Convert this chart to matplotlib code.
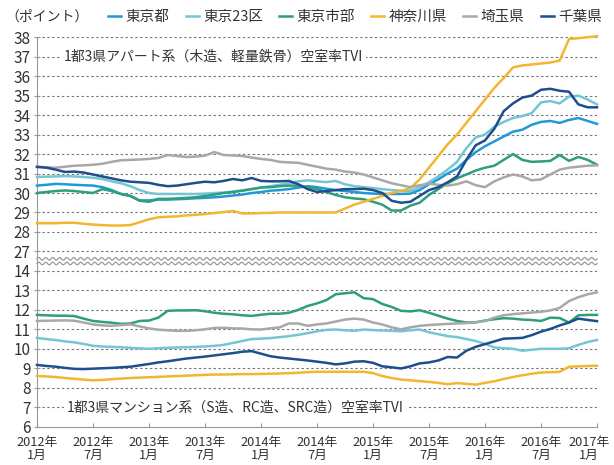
import numpy as np
import matplotlib
matplotlib.use("Agg")
from matplotlib import pyplot as plt

plt.rcParams['font.family'] = ['Noto Sans CJK JP', 'DejaVu Sans']

# 月次 2012年1月 〜 2017年1月 (61点)
months = list(range(61))
tick_pos = list(range(0, 61, 6))
tick_labels = ["2012年\n1月", "2012年\n7月", "2013年\n1月", "2013年\n7月", "2014年\n1月",
               "2014年\n7月", "2015年\n1月", "2015年\n7月", "2016年\n1月", "2016年\n7月",
               "2017年\n1月"]

names = ["東京都", "東京23区", "東京市部", "神奈川県", "埼玉県", "千葉県"]
colors = ["#1f9ad6", "#74c6d4", "#2e9e7c", "#f2b630", "#a8a8a8", "#1f4e8c"]

# アパート系 (上段)
apt_tokyo = [30.38, 30.42, 30.47, 30.45, 30.42, 30.4, 30.38, 30.3, 30.15, 29.95, 29.85, 29.62,
             29.62, 29.66, 29.66, 29.68, 29.7, 29.73, 29.75, 29.78, 29.82, 29.87, 29.92, 30.0,
             30.05, 30.12, 30.15, 30.2, 30.28, 30.35, 30.3, 30.22, 30.15, 30.1, 30.05, 30.0,
             29.97, 29.95, 29.95, 29.95, 29.97, 30.15, 30.45, 30.7, 31.0, 31.25, 31.7, 32.1,
             32.4, 32.65, 32.9, 33.15, 33.25, 33.5, 33.65, 33.7, 33.6, 33.75, 33.85, 33.7, 33.55]
apt_23ku = [30.82, 30.84, 30.85, 30.87, 30.85, 30.82, 30.78, 30.72, 30.6, 30.5, 30.35, 30.15,
            30.0, 29.95, 29.95, 29.95, 29.95, 29.95, 29.97, 30.0, 30.02, 30.08, 30.13, 30.2,
            30.28, 30.35, 30.42, 30.5, 30.6, 30.65, 30.6, 30.56, 30.62, 30.45, 30.35, 30.3,
            30.25, 30.2, 30.15, 30.12, 30.1, 30.3, 30.55, 30.85, 31.2, 31.6, 32.3, 32.85,
            33.0, 33.4, 33.65, 33.85, 33.95, 34.1, 34.65, 34.72, 34.6, 34.95, 35.0, 34.8, 34.55]
apt_shibu = [30.0, 30.05, 30.1, 30.13, 30.1, 30.05, 30.0, 30.2, 30.1, 29.95, 29.85, 29.6,
             29.55, 29.7, 29.7, 29.72, 29.75, 29.78, 29.85, 29.92, 30.0, 30.05, 30.12, 30.2,
             30.28, 30.3, 30.35, 30.38, 30.38, 30.3, 30.2, 30.05, 29.9, 29.78, 29.72, 29.68,
             29.55, 29.4, 29.1, 29.1, 29.35, 29.5, 29.9, 30.2, 30.5, 30.75, 30.95, 31.15,
             31.3, 31.4, 31.7, 32.0, 31.7, 31.6, 31.62, 31.65, 31.95, 31.65, 31.85, 31.7, 31.45]
apt_kanagawa = [28.45, 28.45, 28.45, 28.47, 28.47, 28.42, 28.38, 28.35, 28.33, 28.33, 28.35, 28.5,
                28.65, 28.75, 28.78, 28.8, 28.85, 28.88, 28.92, 28.97, 29.02, 29.08, 28.95, 28.95,
                28.97, 28.98, 29.0, 29.0, 29.0, 29.0, 29.0, 29.0, 29.0, 29.2, 29.4, 29.55,
                29.7, 29.85, 30.0, 30.1, 30.25, 30.7, 31.3, 31.9, 32.5, 33.0, 33.6, 34.2,
                34.8, 35.4, 35.9, 36.45, 36.55, 36.6, 36.65, 36.7, 36.8, 37.9, 37.95, 38.0, 38.05]
apt_saitama = [31.35, 31.32, 31.3, 31.35, 31.4, 31.42, 31.45, 31.5, 31.6, 31.68, 31.7, 31.72,
               31.75, 31.8, 31.95, 31.9, 31.85, 31.87, 31.92, 32.1, 31.95, 31.93, 31.9, 31.82,
               31.75, 31.7, 31.6, 31.57, 31.55, 31.45, 31.35, 31.25, 31.2, 31.1, 31.05, 30.95,
               30.8, 30.65, 30.5, 30.4, 30.3, 30.4, 30.48, 30.42, 30.38, 30.45, 30.6, 30.4,
               30.3, 30.6, 30.8, 30.95, 30.85, 30.65, 30.7, 30.95, 31.2, 31.3, 31.35, 31.4, 31.42]
apt_chiba = [31.34, 31.3, 31.2, 31.08, 31.1, 31.05, 30.95, 30.85, 30.75, 30.65, 30.58, 30.55,
             30.52, 30.42, 30.35, 30.38, 30.45, 30.52, 30.58, 30.55, 30.62, 30.72, 30.65, 30.77,
             30.62, 30.6, 30.6, 30.62, 30.45, 30.2, 30.05, 30.1, 30.15, 30.2, 30.2, 30.22,
             30.15, 30.0, 29.6, 29.5, 29.55, 29.85, 30.15, 30.3, 30.55, 30.85, 31.7, 32.45,
             32.7, 33.3, 34.2, 34.6, 34.9, 35.0, 35.3, 35.35, 35.25, 35.2, 34.55, 34.4, 34.4]

# マンション系 (下段)
man_23ku = [10.56, 10.5, 10.45, 10.38, 10.33, 10.25, 10.15, 10.12, 10.1, 10.08, 10.05, 10.02,
            10.0, 10.03, 10.05, 10.07, 10.08, 10.1, 10.12, 10.15, 10.2, 10.3, 10.4, 10.5,
            10.52, 10.55, 10.6, 10.65, 10.72, 10.8, 10.9, 10.97, 10.99, 10.95, 10.92, 10.99,
            10.96, 10.94, 10.92, 10.9, 10.95, 10.99, 10.85, 10.75, 10.65, 10.6, 10.5, 10.4,
            10.25, 10.07, 10.03, 10.0, 9.9, 9.95, 10.0, 10.0, 10.0, 10.03, 10.2, 10.35, 10.45]
man_shibu = [11.74, 11.72, 11.7, 11.7, 11.68, 11.55, 11.43, 11.38, 11.34, 11.28, 11.3, 11.43,
             11.45, 11.6, 11.95, 11.97, 11.97, 11.98, 11.93, 11.85, 11.8, 11.77, 11.72, 11.69,
             11.75, 11.8, 11.8, 11.85, 12.0, 12.2, 12.33, 12.5, 12.8, 12.85, 12.9, 12.6,
             12.55, 12.3, 12.15, 11.95, 11.92, 11.98, 11.85, 11.7, 11.55, 11.43, 11.35, 11.36,
             11.45, 11.52, 11.57, 11.55, 11.5, 11.48, 11.43, 11.6, 11.58, 11.35, 11.72, 11.74, 11.74]
man_kanagawa = [8.61, 8.58, 8.55, 8.5, 8.46, 8.42, 8.38, 8.4, 8.44, 8.47, 8.5, 8.52,
                8.54, 8.56, 8.58, 8.6, 8.62, 8.64, 8.66, 8.68, 8.68, 8.69, 8.7, 8.7,
                8.71, 8.72, 8.73, 8.75, 8.77, 8.8, 8.82, 8.82, 8.82, 8.82, 8.82, 8.82,
                8.75, 8.6, 8.5, 8.42, 8.38, 8.34, 8.3, 8.25, 8.18, 8.24, 8.2, 8.16,
                8.25, 8.33, 8.45, 8.55, 8.64, 8.72, 8.78, 8.8, 8.82, 9.08, 9.1, 9.12, 9.13]
man_saitama = [11.43, 11.44, 11.45, 11.46, 11.44, 11.35, 11.25, 11.2, 11.18, 11.22, 11.25, 11.15,
               11.05, 10.98, 10.95, 10.92, 10.92, 10.95, 11.0, 11.07, 11.08, 11.05, 11.04, 11.0,
               10.99, 11.05, 11.1, 11.3, 11.3, 11.18, 11.25, 11.3, 11.4, 11.5, 11.55, 11.5,
               11.35, 11.25, 11.1, 11.0, 11.1, 11.18, 11.22, 11.25, 11.28, 11.3, 11.32, 11.36,
               11.42, 11.6, 11.72, 11.78, 11.82, 11.86, 11.9, 11.97, 12.1, 12.45, 12.65, 12.8, 12.9]
man_chiba = [9.17, 9.12, 9.08, 9.02, 8.97, 8.96, 8.98, 9.0, 9.02, 9.05, 9.08, 9.15,
             9.22, 9.3, 9.36, 9.43, 9.5, 9.55, 9.6, 9.66, 9.72, 9.78, 9.85, 9.88,
             9.75, 9.62, 9.55, 9.5, 9.45, 9.4, 9.34, 9.28, 9.2, 9.25, 9.34, 9.36,
             9.28, 9.1, 9.05, 8.99, 9.1, 9.25, 9.3, 9.4, 9.58, 9.55, 9.9, 10.1,
             10.24, 10.38, 10.52, 10.54, 10.56, 10.7, 10.88, 11.02, 11.2, 11.35, 11.55, 11.48, 11.42]

apt_series = [apt_tokyo, apt_23ku, apt_shibu, apt_kanagawa, apt_saitama, apt_chiba]
man_series = [None, man_23ku, man_shibu, man_kanagawa, man_saitama, man_chiba]

# 上段は27〜38を15〜26の位置に詰めて描く
OFFSET = 12

fig = plt.figure(figsize=(6.14, 4.65), dpi=100)
ax = fig.add_axes([37 / 614, 38.3 / 465, 560 / 614, 389.5 / 465])

for i in range(6):
    ax.plot(months, np.array(apt_series[i]) - OFFSET, color=colors[i], lw=1.8,
            label=names[i], clip_on=False, zorder=3)
    if man_series[i] is not None:
        ax.plot(months, man_series[i], color=colors[i], lw=1.8, clip_on=False, zorder=3)

ax.set_xlim(0, 60)
ax.set_ylim(6, 26)

yt = list(range(6, 15)) + list(range(15, 27))
ylab = [str(v) for v in range(6, 15)] + [str(v) for v in range(27, 39)]
ax.set_yticks(yt)
ax.set_yticklabels(ylab, fontsize=11, color="#333333")
ax.set_xticks(tick_pos)
ax.set_xticklabels([])

# x軸ラベル (右端だけ少し内側へ寄せる)
for k, (p, lab) in enumerate(zip(tick_pos, tick_labels)):
    dx = -6 if k == len(tick_pos) - 1 else 0
    ax.annotate(lab, xy=(p, 0), xycoords=ax.get_xaxis_transform(),
                xytext=(dx, -7), textcoords="offset points", ha="center", va="top",
                fontsize=9.2, color="#333333", linespacing=1.0, annotation_clip=False)

for v in yt[1:]:
    ax.axhline(v, color="#777777", lw=0.8, ls=(0, (2.2, 2.2)), zorder=1)

for s in ["top", "right"]:
    ax.spines[s].set_visible(False)
ax.spines["left"].set_color("#999999")
ax.spines["bottom"].set_color("#999999")
ax.tick_params(axis="y", direction="inout", length=5, color="#999999", pad=2)
ax.tick_params(axis="x", direction="in", length=3, color="#999999")

# 省略の波線
xw = np.linspace(0, 60, 600)
for base in (14.38, 14.62):
    ax.plot(xw, base + 0.07 * np.sin(xw * 2 * np.pi / 0.75), color="#999999", lw=0.9,
            zorder=2, clip_on=False)

ax.text(2.9, 25, "1都3県アパート系（木造、軽量鉄骨）空室率TVI", fontsize=10, color="#333333",
        va="center", ha="left", zorder=4,
        bbox=dict(facecolor="white", edgecolor="none", pad=2))
ax.text(3.2, 7, "1都3県マンション系（S造、RC造、SRC造）空室率TVI", fontsize=10, color="#333333",
        va="center", ha="left", zorder=4,
        bbox=dict(facecolor="white", edgecolor="none", pad=2))

fig.text(5 / 614, 1 - 17 / 465, "（ポイント）", fontsize=10, color="#333333", va="center")
fig.legend(loc="center", bbox_to_anchor=(355 / 614, 1 - 17 / 465), ncol=6, frameon=False,
           fontsize=10.5, handlelength=0.9, handletextpad=0.3, columnspacing=1.1,
           labelcolor="#333333")

fig.savefig("out.png", dpi=100)
